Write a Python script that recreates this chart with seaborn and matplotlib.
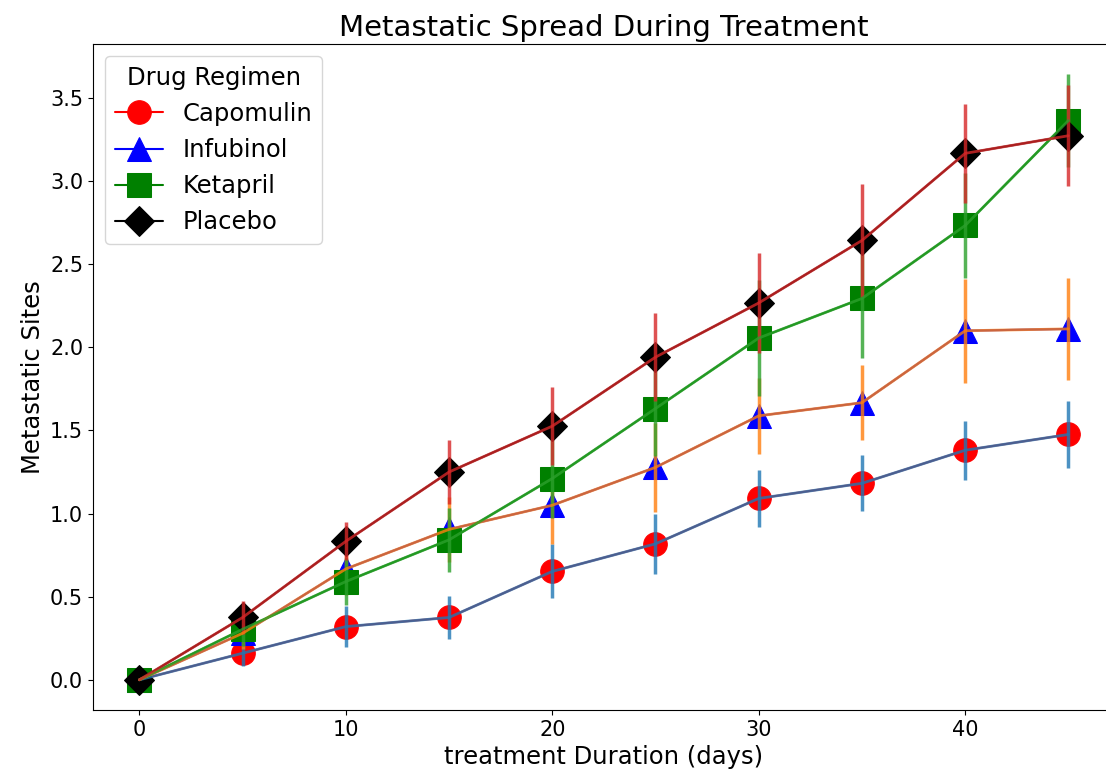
import matplotlib
matplotlib.use("Agg")
import matplotlib.pyplot as plt
import seaborn as sns
import pandas as pd

days = [0, 5, 10, 15, 20, 25, 30, 35, 40, 45]

capomulin_mean = [0.0, 0.16, 0.32, 0.375, 0.652, 0.818, 1.091, 1.182, 1.381, 1.476]
capomulin_sem = [0.0, 0.075, 0.125, 0.132, 0.162, 0.182, 0.173, 0.169, 0.176, 0.203]
infubinol_mean = [0.0, 0.28, 0.667, 0.905, 1.05, 1.278, 1.588, 1.667, 2.1, 2.111]
infubinol_sem = [0.0, 0.092, 0.159, 0.194, 0.235, 0.266, 0.228, 0.225, 0.314, 0.309]
ketapril_mean = [0.0, 0.304, 0.591, 0.842, 1.211, 1.632, 2.056, 2.294, 2.733, 3.364]
ketapril_sem = [0.0, 0.098, 0.142, 0.191, 0.237, 0.288, 0.347, 0.361, 0.316, 0.279]
placebo_mean = [0.0, 0.375, 0.833, 1.25, 1.526, 1.941, 2.267, 2.643, 3.167, 3.273]
placebo_sem = [0.0, 0.101, 0.115, 0.190, 0.234, 0.264, 0.300, 0.341, 0.297, 0.304]

drugs = ['Capomulin', 'Infubinol', 'Ketapril', 'Placebo']
means = [capomulin_mean, infubinol_mean, ketapril_mean, placebo_mean]
sems = [capomulin_sem, infubinol_sem, ketapril_sem, placebo_sem]
markers = ['o', '^', 's', 'D']
colors = ['red', 'blue', 'green', 'black']
bar_colors = ['tab:blue', 'tab:orange', 'tab:green', 'tab:red']

sns.set_style("ticks", {"axes.edgecolor": "black", "text.color": "black",
                        "xtick.color": "black", "ytick.color": "black",
                        "axes.labelcolor": "black"})
fig, ax = plt.subplots(figsize=(11.06, 7.71), dpi=100)
# the right spine sits just past the edge of the picture in the reference
fig.subplots_adjust(left=0.084, right=1.008, top=0.943, bottom=0.079)

for drug, m, s, mk, c, bc in zip(drugs, means, sems, markers, colors, bar_colors):
    df = pd.DataFrame({'day': days, 'sites': m})
    sns.lineplot(x='day', y='sites', data=df, ax=ax, marker=mk, color=c,
                 markersize=17 if mk != 'D' else 15, markeredgecolor=c,
                 linewidth=1.5, label=drug)
    ax.errorbar(days, m, yerr=s, color=bc, alpha=0.8, linewidth=2, elinewidth=2.5)

ax.set_title('Metastatic Spread During Treatment', fontsize=21)
ax.set_xlabel('treatment Duration (days)', fontsize=17.5)
ax.set_ylabel('Metastatic Sites', fontsize=17.5)
ax.tick_params(labelsize=15)
leg = ax.legend(title='Drug Regimen', fontsize=17.5, title_fontsize=17.5, loc='upper left')

fig.savefig('out.png', dpi=100)
